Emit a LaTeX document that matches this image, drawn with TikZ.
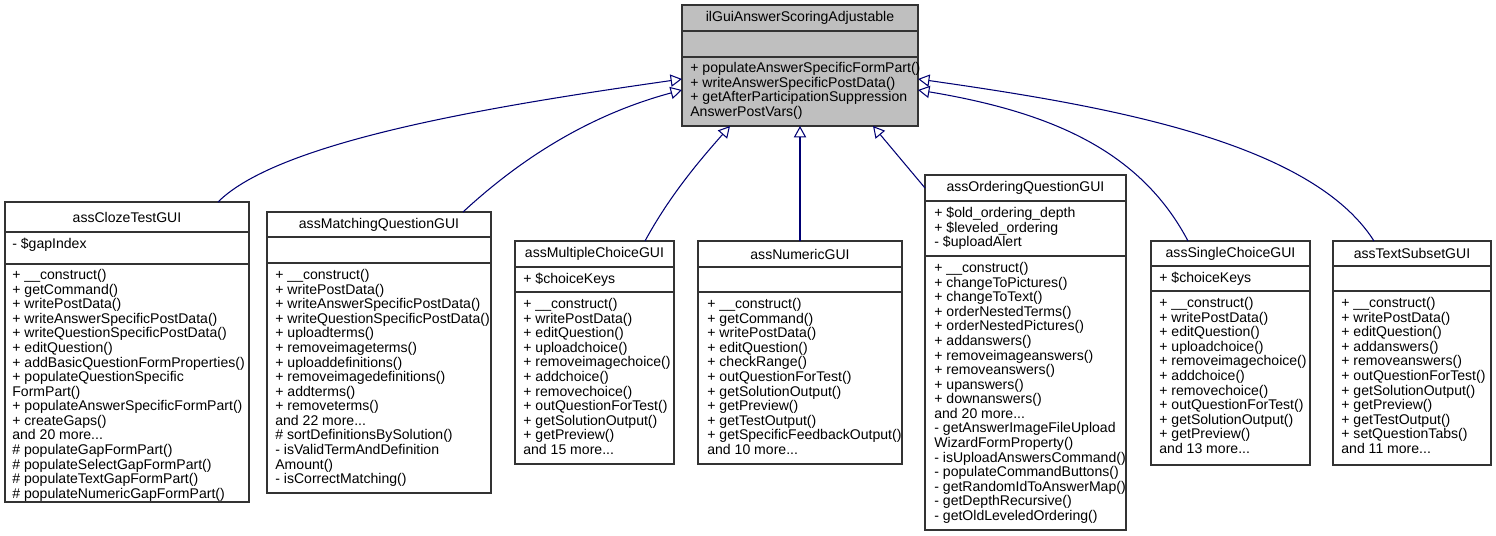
\documentclass[tikz,border=0pt]{standalone}
\usepackage{fontspec}
\setmainfont{Liberation Sans}
\usetikzlibrary{arrows.meta}
\colorlet{edge colour}{blue!45!black}
\colorlet{base colour}{black!25}
\tikzset{
    % Doxygen like class boxes
    frame/.style={draw=black!80, line width=0.6pt},
    title text/.style={inner sep=0, font=\fontsize{8}{8.3}\selectfont},
    member text/.style={anchor=north west, inner sep=0, align=left,
        font=\fontsize{8}{8.3}\selectfont},
    inherit/.style={color=edge colour, line width=0.6pt,
        -{Triangle[open, length=6.5pt, width=7pt, fill=white]}},
}
% name, left, top, right, title bottom, attribute bottom, bottom, title
\newcommand{\classbox}[8]{
    \draw [frame, #1 fill] (#2,#3) rectangle (#4,#7);
    \draw [frame] (#2,#5) -- (#4,#5) (#2,#6) -- (#4,#6);
    \node [title text] (#1) at ({(#2+#4)/2},{(#3+#5)/2}) {#8};
    \coordinate (#1 top) at ({(#2+#4)/2},#3);
}
\begin{document}
\begin{tikzpicture}[x=0.02cm, y=-0.02cm,
    base fill/.style={fill=base colour},
    cloze fill/.style={}, matching fill/.style={}, multiple fill/.style={},
    numeric fill/.style={}, ordering fill/.style={}, single fill/.style={},
    subset fill/.style={}]
\useasboundingbox (0,0) rectangle (1496,536);

% The interface
\classbox{base}{682}{5}{918}{31}{57}{126}{ilGuiAnswerScoringAdjustable}
\node [member text] at (690,62) {+ populateAnswerSpecificFormPart()\\
+ writeAnswerSpecificPostData()\\+ getAfterParticipationSuppression\\AnswerPostVars()};

% The implementing classes
\classbox{cloze}{5}{202}{249}{232}{264}{502}{assClozeTestGUI}
\node [member text] at (12,238) {- \$gapIndex};
\node [member text] at (12,269) {+ \_\_construct()\\+ getCommand()\\+ writePostData()\\
+ writeAnswerSpecificPostData()\\+ writeQuestionSpecificPostData()\\+ editQuestion()\\
+ addBasicQuestionFormProperties()\\+ populateQuestionSpecific\\FormPart()\\
+ populateAnswerSpecificFormPart()\\+ createGaps()\\and 20 more...\\
\# populateGapFormPart()\\\# populateSelectGapFormPart()\\\# populateTextGapFormPart()\\
\# populateNumericGapFormPart()};

\classbox{matching}{267}{212}{491}{237}{263}{493}{assMatchingQuestionGUI}
\node [member text] at (275,269) {+ \_\_construct()\\+ writePostData()\\
+ writeAnswerSpecificPostData()\\+ writeQuestionSpecificPostData()\\+ uploadterms()\\
+ removeimageterms()\\+ uploaddefinitions()\\+ removeimagedefinitions()\\+ addterms()\\
+ removeterms()\\and 22 more...\\\# sortDefinitionsBySolution()\\
- isValidTermAndDefinition\\Amount()\\- isCorrectMatching()};

\classbox{multiple}{515}{241}{674}{267}{292}{464}{assMultipleChoiceGUI}
\node [member text] at (523,273) {+ \$choiceKeys};
\node [member text] at (523,298) {+ \_\_construct()\\+ writePostData()\\+ editQuestion()\\
+ uploadchoice()\\+ removeimagechoice()\\+ addchoice()\\+ removechoice()\\
+ outQuestionForTest()\\+ getSolutionOutput()\\+ getPreview()\\and 15 more...};

\classbox{numeric}{698}{241}{902}{267}{292}{464}{assNumericGUI}
\node [member text] at (707,298) {+ \_\_construct()\\+ getCommand()\\+ writePostData()\\
+ editQuestion()\\+ checkRange()\\+ outQuestionForTest()\\+ getSolutionOutput()\\
+ getPreview()\\+ getTestOutput()\\+ getSpecificFeedbackOutput()\\and 10 more...};

\classbox{ordering}{925}{175}{1126}{201}{256}{530}{assOrderingQuestionGUI}
\node [member text] at (934,207) {+ \$old\_ordering\_depth\\+ \$leveled\_ordering\\- \$uploadAlert};
\node [member text] at (934,262) {+ \_\_construct()\\+ changeToPictures()\\+ changeToText()\\
+ orderNestedTerms()\\+ orderNestedPictures()\\+ addanswers()\\+ removeimageanswers()\\
+ removeanswers()\\+ upanswers()\\+ downanswers()\\and 20 more...\\
- getAnswerImageFileUpload\\WizardFormProperty()\\- isUploadAnswersCommand()\\
- populateCommandButtons()\\- getRandomIdToAnswerMap()\\- getDepthRecursive()\\
- getOldLeveledOrdering()};

\classbox{single}{1151}{241}{1310}{266}{291}{465}{assSingleChoiceGUI}
\node [member text] at (1159,272) {+ \$choiceKeys};
\node [member text] at (1159,297) {+ \_\_construct()\\+ writePostData()\\+ editQuestion()\\
+ uploadchoice()\\+ removeimagechoice()\\+ addchoice()\\+ removechoice()\\
+ outQuestionForTest()\\+ getSolutionOutput()\\+ getPreview()\\and 13 more...};

\classbox{subset}{1333}{241}{1491}{266}{291}{465}{assTextSubsetGUI}
\node [member text] at (1341,297) {+ \_\_construct()\\+ writePostData()\\+ editQuestion()\\
+ addanswers()\\+ removeanswers()\\+ outQuestionForTest()\\+ getSolutionOutput()\\
+ getPreview()\\+ getTestOutput()\\+ setQuestionTabs()\\and 11 more...};

% Inheritance arrows
\coordinate (cloze end) at (218,202);
\coordinate (matching end) at (463,212);
\coordinate (multiple end) at (645,241);
\coordinate (ordering end) at (925,188);
\coordinate (single end) at (1188,241);
\coordinate (subset end) at (1374,241);
\draw [inherit] (cloze end) .. controls (280,140) and (500,105) .. (682,79);
\draw [inherit] (matching end) .. controls (530,150) and (600,112) .. (682,90);
\draw [inherit] (multiple end) .. controls (670,195) and (700,160) .. (730,126);
\draw [inherit] (numeric top) -- (numeric top |- 0,126);
\draw [inherit] (ordering end) -- (873,126);
\draw [inherit] (single end) .. controls (1140,150) and (1050,112) .. (918,90);
\draw [inherit] (subset end) .. controls (1310,140) and (1100,105) .. (918,79);
\end{tikzpicture}
\end{document}
